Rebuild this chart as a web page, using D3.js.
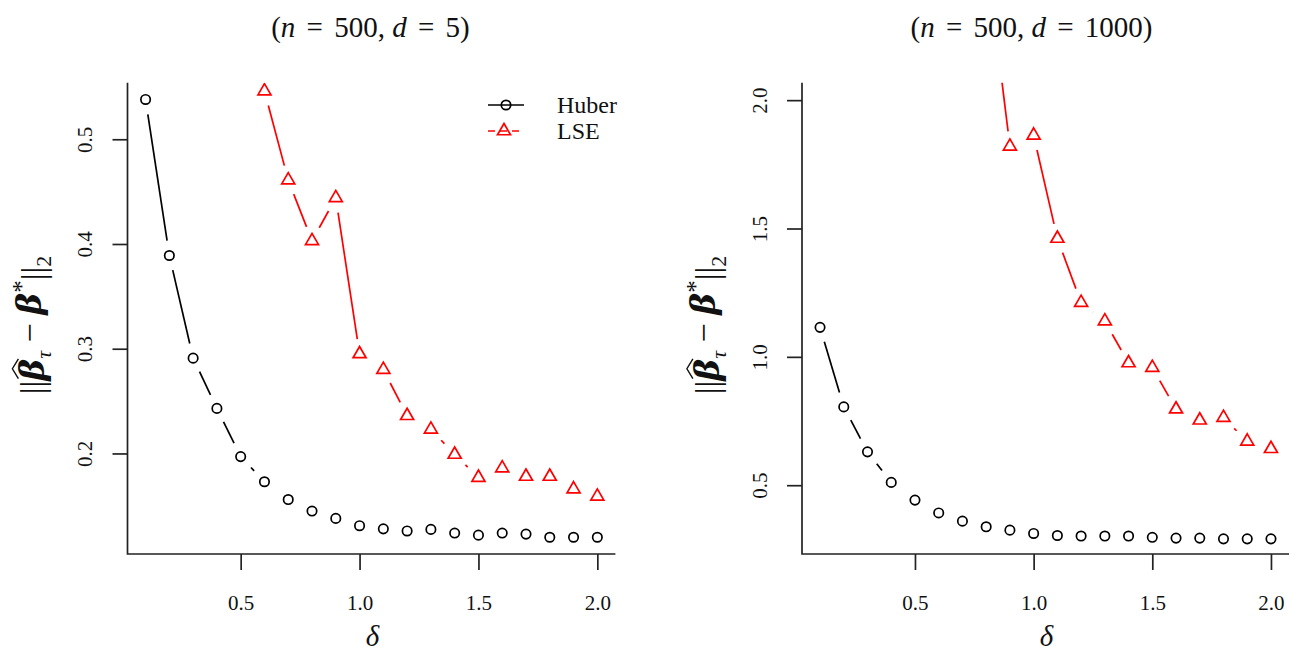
<!DOCTYPE html>
<html>
<head>
<meta charset="utf-8">
<script src="https://cdn.jsdelivr.net/npm/d3@7"></script>
<style>
  body { margin: 0; background: #fff; }
  svg text { font-family: "Liberation Serif", "DejaVu Serif", serif; fill: #111; }
</style>
</head>
<body>
<div id="chart"></div>
<script>
// delta grid and estimation errors
const deltas = [0.1, 0.2, 0.3, 0.4, 0.5, 0.6, 0.7, 0.8, 0.9, 1.0,
                1.1, 1.2, 1.3, 1.4, 1.5, 1.6, 1.7, 1.8, 1.9, 2.0];

const huberD5 = [0.538, 0.389, 0.291, 0.243, 0.197, 0.173, 0.156, 0.145, 0.138, 0.131,
                 0.128, 0.126, 0.1275, 0.124, 0.122, 0.124, 0.123, 0.120, 0.120, 0.120];
const lseDeltaD5 = [0.6, 0.7, 0.8, 0.9, 1.0, 1.1, 1.2, 1.3, 1.4, 1.5, 1.6, 1.7, 1.8, 1.9, 2.0];
const lseD5 = [0.546, 0.461, 0.403, 0.444, 0.295, 0.280, 0.236, 0.223, 0.199, 0.177,
               0.186, 0.178, 0.178, 0.166, 0.159];

const huberD1000 = [1.115, 0.805, 0.630, 0.511, 0.442, 0.392, 0.360, 0.338, 0.325, 0.312,
                    0.304, 0.302, 0.302, 0.302, 0.297, 0.294, 0.294, 0.291, 0.291, 0.291];
const lseDeltaD1000 = [0.8, 0.9, 1.0, 1.1, 1.2, 1.3, 1.4, 1.5, 1.6, 1.7, 1.8, 1.9, 2.0];
const lseD1000 = [2.57, 1.82, 1.863, 1.461, 1.211, 1.139, 0.976, 0.958, 0.796, 0.753,
                  0.763, 0.671, 0.642];

const xTicks = [0.5, 1.0, 1.5, 2.0];
const yTicksD5 = [0.2, 0.3, 0.4, 0.5];
const yTicksD1000 = [0.5, 1.0, 1.5, 2.0];
const legendLabels = ["Huber", "LSE"];

const width = 1303, height = 654;
const plotTop = 82.7, plotBottom = 554;
const gap = 15;

const svg = d3.select("#chart").append("svg")
    .attr("width", width)
    .attr("height", height);

const panels = [
    { id: "d5", d: "5", left: 127.5, right: 615.4, yDomain: [0.104, 0.554], yTicks: yTicksD5,
      huber: huberD5, lseX: lseDeltaD5, lse: lseD5, legend: true, titleShift: -1 },
    { id: "d1000", d: "1000", left: 802, right: 1289, yDomain: [0.232, 2.068], yTicks: yTicksD1000,
      huber: huberD1000, lseX: lseDeltaD1000, lse: lseD1000, legend: false, titleShift: -14 }
];

const triangle = "M0,-7.5L6.5,3.75L-6.5,3.75Z";

function drawGapped(g, pts, color) {
    for (let i = 1; i < pts.length; i++) {
        const [x0, y0] = pts[i - 1], [x1, y1] = pts[i];
        const dx = x1 - x0, dy = y1 - y0, len = Math.hypot(dx, dy);
        if (len <= 2 * gap) continue;
        const ux = dx / len, uy = dy / len;
        g.append("line")
            .attr("x1", x0 + ux * gap).attr("y1", y0 + uy * gap)
            .attr("x2", x1 - ux * gap).attr("y2", y1 - uy * gap)
            .attr("stroke", color)
            .attr("stroke-width", 1.7);
    }
}

panels.forEach(p => {
    const x = d3.scaleLinear().domain([0.024, 2.076]).range([p.left, p.right]);
    const y = d3.scaleLinear().domain(p.yDomain).range([plotBottom, plotTop]);
    const g = svg.append("g");

    // title, math-style spacing around "="
    const title = g.append("text")
        .attr("x", (p.left + p.right) / 2 + p.titleShift)
        .attr("y", 37)
        .attr("text-anchor", "middle")
        .attr("font-size", "29px");
    title.append("tspan").text("(");
    title.append("tspan").attr("font-style", "italic").text("n");
    title.append("tspan").attr("dx", 4).text(" = ");
    title.append("tspan").attr("dx", 4).text("500, ");
    title.append("tspan").attr("font-style", "italic").text("d");
    title.append("tspan").attr("dx", 4).text(" = ");
    title.append("tspan").attr("dx", 4).text(p.d + ")");

    // L-shaped box
    g.append("path")
        .attr("d", `M${p.left},${plotTop}V${plotBottom}H${p.right}`)
        .attr("fill", "none")
        .attr("stroke", "#222")
        .attr("stroke-width", 1.7);

    const xAxis = g.append("g")
        .attr("transform", `translate(0,${plotBottom})`)
        .call(d3.axisBottom(x).tickValues(xTicks).tickFormat(d3.format(".1f"))
            .tickSize(16).tickPadding(25));
    xAxis.select(".domain").remove();
    xAxis.selectAll("line").attr("stroke", "#222").attr("stroke-width", 1.7);
    xAxis.selectAll("text").attr("font-size", "21px").attr("fill", "#111");

    const yAxis = g.append("g")
        .attr("transform", `translate(${p.left},0)`)
        .call(d3.axisLeft(y).tickValues(p.yTicks).tickFormat(d3.format(".1f")).tickSize(15));
    yAxis.select(".domain").remove();
    yAxis.selectAll("line").attr("stroke", "#222").attr("stroke-width", 1.7);
    yAxis.selectAll("text")
        .attr("font-size", "21px").attr("fill", "#111")
        .attr("transform", "rotate(-90)")
        .attr("x", 0).attr("y", -35.5).attr("dy", 0)
        .attr("text-anchor", "middle");

    // x label
    g.append("text")
        .attr("x", (p.left + p.right) / 2 + 1)
        .attr("y", 646)
        .attr("text-anchor", "middle")
        .attr("font-size", "29px")
        .attr("font-style", "italic")
        .text("δ");

    // y label: ||beta-hat_tau - beta*||_2, rotated
    const ylg = g.append("g")
        .attr("transform", `translate(${p.left - 95},325) rotate(-90)`);
    const yl = ylg.append("text")
        .attr("text-anchor", "middle")
        .attr("dy", "0.35em")
        .attr("font-size", "34px");
    yl.append("tspan").text("||");
    yl.append("tspan").attr("font-style", "italic").attr("font-weight", "bold")
        .style("font-family", "'DejaVu Serif', serif").attr("font-size", "33px").text("β");
    yl.append("tspan").attr("font-style", "italic").attr("font-size", "22px").attr("dy", "0.3em").text("τ");
    yl.append("tspan").attr("dy", "-0.3em").text(" − ");
    yl.append("tspan").attr("font-style", "italic").attr("font-weight", "bold")
        .style("font-family", "'DejaVu Serif', serif").attr("font-size", "33px").text("β");
    yl.append("tspan").attr("font-size", "25px").attr("dy", "-0.45em").text("*");
    yl.append("tspan").attr("dy", "0.45em").text("||");
    yl.append("tspan").attr("font-size", "22px").attr("dy", "0.3em").text("2");
    // wide hat over the first beta
    const b = yl.node().getExtentOfChar(2);
    ylg.append("path")
        .attr("d", `M${b.x + 2},${b.y + 5}L${b.x + b.width / 2 + 1},${b.y - 1}L${b.x + b.width},${b.y + 5}`)
        .attr("fill", "none")
        .attr("stroke", "#111")
        .attr("stroke-width", 1.4);

    // clip to plot region
    const clipId = "clip-" + p.id;
    svg.append("clipPath").attr("id", clipId).append("rect")
        .attr("x", p.left).attr("y", plotTop)
        .attr("width", p.right - p.left).attr("height", plotBottom - plotTop);
    const plot = g.append("g").attr("clip-path", `url(#${clipId})`);

    const huberPts = deltas.map((d, i) => [x(d), y(p.huber[i])]);
    const lsePts = p.lseX.map((d, i) => [x(d), y(p.lse[i])]);

    drawGapped(plot, huberPts, "#000");
    drawGapped(plot, lsePts, "#ff0000");

    plot.selectAll(".hub").data(huberPts).enter().append("circle")
        .attr("cx", d => d[0]).attr("cy", d => d[1]).attr("r", 4.7)
        .attr("fill", "none").attr("stroke", "#000").attr("stroke-width", 1.7);
    plot.selectAll(".lse").data(lsePts).enter().append("path")
        .attr("d", triangle)
        .attr("transform", d => `translate(${d[0]},${d[1]})`)
        .attr("fill", "none").attr("stroke", "#ff0000").attr("stroke-width", 1.7);

    if (p.legend) {
        const lg = g.append("g");
        const rows = [
            { label: legendLabels[0], y: 105, color: "#000", dash: null, shape: "circle" },
            { label: legendLabels[1], y: 131, color: "#ff0000", dash: "7,5", shape: "tri" }
        ];
        rows.forEach(r => {
            lg.append("line").attr("x1", 488).attr("x2", 524).attr("y1", r.y).attr("y2", r.y)
                .attr("stroke", r.color).attr("stroke-width", 1.7).attr("stroke-dasharray", r.dash);
            if (r.shape === "circle") {
                lg.append("circle").attr("cx", 506).attr("cy", r.y).attr("r", 4.7)
                    .attr("fill", "none").attr("stroke", r.color).attr("stroke-width", 1.7);
            } else {
                lg.append("path").attr("d", triangle).attr("transform", `translate(504,${r.y})`)
                    .attr("fill", "none").attr("stroke", r.color).attr("stroke-width", 1.7);
            }
            lg.append("text").attr("x", 557).attr("y", r.y).attr("dy", "0.35em")
                .attr("font-size", "24px").text(r.label);
        });
    }
});
</script>
</body>
</html>
